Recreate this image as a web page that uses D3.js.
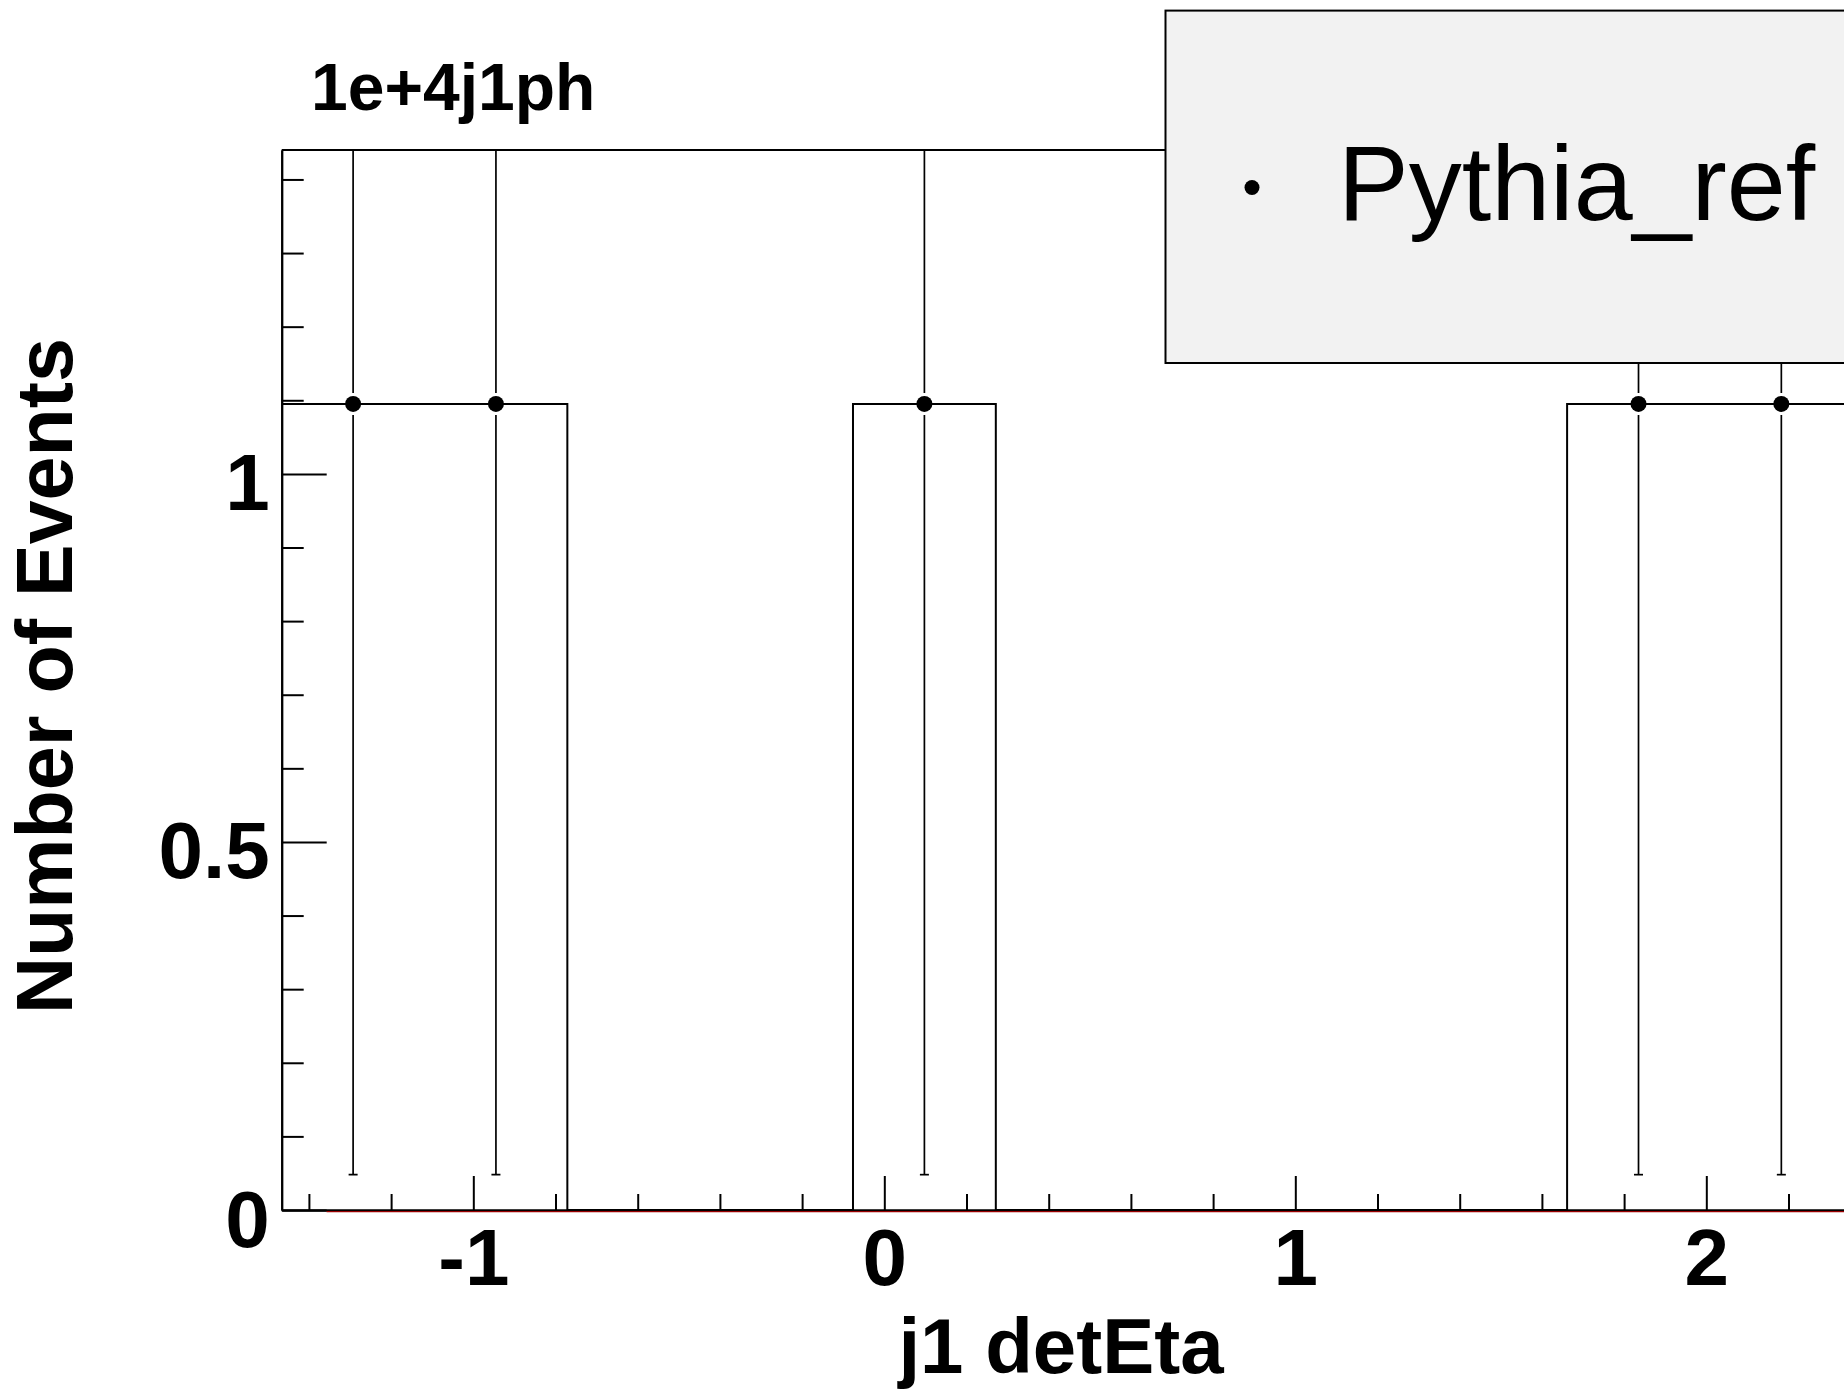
<!DOCTYPE html>
<html>
<head>
<meta charset="utf-8">
<script src="https://cdn.jsdelivr.net/npm/d3@7/dist/d3.min.js"></script>
<style>
  body { margin: 0; background: #fff; }
  svg { display: block; }
  text { font-family: "Liberation Sans", Arial, sans-serif; }
</style>
</head>
<body>
<div id="chart"></div>
<script>
// histogram data
var binLow = -1.4662;
var binWidth = 0.3475;
var binCounts = [1.095, 1.095, 0, 0, 1.095, 0, 0, 0, 0, 1.095, 1.095, 0, 0];
var binErrors = [1.047, 1.047, 0, 0, 1.047, 0, 0, 0, 0, 1.047, 1.047, 0, 0];
var xMajorTicks = [-1, 0, 1, 2];
var xTickLabels = ["-1", "0", "1", "2"];
var yMajorTicks = [0, 0.5, 1];
var yTickLabels = ["0", "0.5", "1"];
var xDomain = [-1.4662, 3.0];
var yDomain = [0, 1.44];
var redLineRange = [-1.357, 3.0];   // dark red line along zero
var titleText = "1e+4j1ph";
var xTitle = "j1 detEta";
var yTitle = "Number of Events";
var legendLabel = "Pythia_ref";

var W = 1844, H = 1392;
var frameLeft = 281.7, frameBottom = 1210, frameTop = 150;

var svg = d3.select("#chart")
  .append("svg")
    .attr("width", W)
    .attr("height", H);

var x = d3.scaleLinear()
  .domain(xDomain)
  .range([frameLeft, frameLeft + (xDomain[1] - xDomain[0]) * 411]);
var y = d3.scaleLinear()
  .domain(yDomain)
  .range([frameBottom, frameTop]);

svg.append("clipPath")
  .attr("id", "frame")
  .append("rect")
    .attr("x", frameLeft)
    .attr("y", frameTop)
    .attr("width", W - frameLeft)
    .attr("height", frameBottom - frameTop);

var plot = svg.append("g").attr("clip-path", "url(#frame)");

// histogram outline
var steps = [[binLow, 0]];
binCounts.forEach(function(c, i){
  steps.push([binLow + i*binWidth, c]);
  steps.push([binLow + (i+1)*binWidth, c]);
});
steps.push([binLow + binCounts.length*binWidth, 0]);

plot.append("path")
  .datum(steps)
  .attr("fill", "none")
  .attr("stroke", "#000")
  .attr("stroke-width", 2)
  .attr("d", d3.line().x(function(d){ return x(d[0]); }).y(function(d){ return y(d[1]); }));

// points with error bars
var r = 8, gap = 3;
var points = binCounts.map(function(c, i){
  return {x: binLow + (i + 0.5)*binWidth, c: c, e: binErrors[i]};
}).filter(function(d){ return d.c > 0; });

var pts = plot.selectAll(".pt").data(points).enter().append("g").attr("class", "pt");
pts.append("line")
  .attr("x1", function(d){ return x(d.x); })
  .attr("x2", function(d){ return x(d.x); })
  .attr("y1", function(d){ return y(d.c + d.e); })
  .attr("y2", function(d){ return y(d.c) - r - gap; });
pts.append("line")
  .attr("x1", function(d){ return x(d.x); })
  .attr("x2", function(d){ return x(d.x); })
  .attr("y1", function(d){ return y(d.c) + r + gap; })
  .attr("y2", function(d){ return y(d.c - d.e); });
pts.append("line")
  .attr("x1", function(d){ return x(d.x) - 4.5; })
  .attr("x2", function(d){ return x(d.x) + 4.5; })
  .attr("y1", function(d){ return y(d.c - d.e); })
  .attr("y2", function(d){ return y(d.c - d.e); });
pts.selectAll("line").attr("stroke", "#000").attr("stroke-width", 1.7);
pts.append("circle")
  .attr("cx", function(d){ return x(d.x); })
  .attr("cy", function(d){ return y(d.c); })
  .attr("r", r)
  .attr("fill", "#000");

// axes, ticks pointing inward
var xMinor = d3.range(-1.4, 3.0, 0.2).filter(function(v){ return Math.abs(v - Math.round(v)) > 1e-6; });
var yMinor = d3.range(0.1, 1.45, 0.1).filter(function(v){ return Math.abs(v*2 - Math.round(v*2)) > 1e-6; });

svg.append("g")
  .attr("transform", "translate(0," + frameBottom + ")")
  .call(d3.axisBottom(x).tickValues(xMinor).tickSize(-16).tickSizeOuter(0).tickFormat(""));
var xAxis = svg.append("g")
  .attr("transform", "translate(0," + frameBottom + ")")
  .call(d3.axisBottom(x).tickValues(xMajorTicks).tickSize(-34).tickSizeOuter(0).tickPadding(18)
    .tickFormat(function(d, i){ return xTickLabels[i]; }));

svg.append("g")
  .attr("transform", "translate(" + frameLeft + ",0)")
  .call(d3.axisLeft(y).tickValues(yMinor).tickSize(-22).tickSizeOuter(0).tickFormat(""));
var yAxis = svg.append("g")
  .attr("transform", "translate(" + frameLeft + ",0)")
  .call(d3.axisLeft(y).tickValues(yMajorTicks).tickSize(-45).tickSizeOuter(0).tickPadding(12)
    .tickFormat(function(d, i){ return yTickLabels[i]; }));
yAxis.selectAll("text").attr("dy", "0.45em");

svg.selectAll(".domain").attr("stroke", "#000").attr("stroke-width", 2);
svg.selectAll(".tick line").attr("stroke", "#000").attr("stroke-width", 2);
svg.selectAll(".tick text")
  .attr("fill", "#000")
  .style("font-family", "'Liberation Sans', Arial, sans-serif")
  .style("font-weight", "bold")
  .style("font-size", "80px");

// red zero line, just under the axis
svg.append("line")
  .attr("x1", x(redLineRange[0]))
  .attr("x2", Math.min(W, x(redLineRange[1])))
  .attr("y1", y(0) + 1.6)
  .attr("y2", y(0) + 1.6)
  .attr("stroke", "#990000")
  .attr("stroke-width", 1.4);

// top frame line
svg.append("line")
  .attr("x1", frameLeft)
  .attr("x2", W)
  .attr("y1", frameTop)
  .attr("y2", frameTop)
  .attr("stroke", "#000")
  .attr("stroke-width", 2);

// titles
svg.append("text")
  .attr("x", 311)
  .attr("y", 110)
  .style("font-weight", "bold")
  .style("font-size", "66px")
  .text(titleText);

svg.append("text")
  .attr("x", 1061)
  .attr("y", 1373)
  .attr("text-anchor", "middle")
  .style("font-weight", "bold")
  .style("font-size", "78px")
  .text(xTitle);

svg.append("text")
  .attr("transform", "translate(72,676) rotate(-90)")
  .attr("text-anchor", "middle")
  .style("font-weight", "bold")
  .style("font-size", "79px")
  .text(yTitle);

// legend box
var legend = svg.append("g");
legend.append("rect")
  .attr("x", 1165.5)
  .attr("y", 10.6)
  .attr("width", 800)
  .attr("height", 352.4)
  .attr("fill", "#f2f2f2")
  .attr("stroke", "#000")
  .attr("stroke-width", 2);
legend.append("circle")
  .attr("cx", 1252)
  .attr("cy", 187.5)
  .attr("r", 7.5)
  .attr("fill", "#000");
legend.append("text")
  .attr("x", 1338)
  .attr("y", 220)
  .style("font-size", "106px")
  .text(legendLabel);
</script>
</body>
</html>
